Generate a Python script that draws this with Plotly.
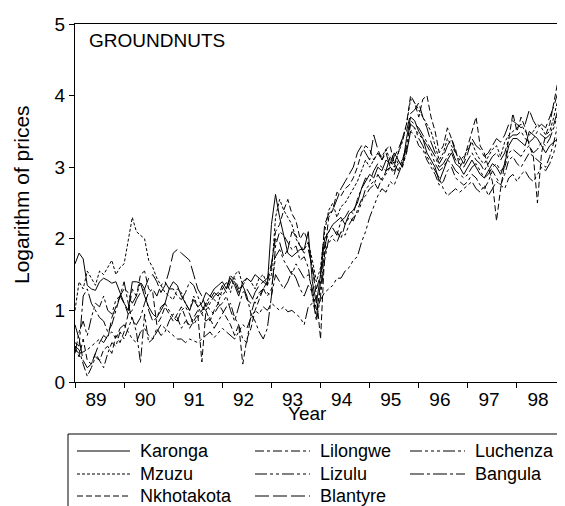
import plotly.graph_objects as go

# monthly observations 1989:01 - 1998:12
years = list(range(1989, 1999))
x_time = [y + m / 12 for y in years for m in range(12)]
tick_labels = ["89", "90", "91", "92", "93", "94", "95", "96", "97", "98"]

karonga = [
    1.65, 1.80, 1.72, 1.35, 1.30, 1.28, 1.40, 1.45, 1.42, 1.38, 1.40, 1.25,
    1.10, 1.00, 1.40, 1.40, 1.38, 1.20, 1.05, 0.95, 0.90, 1.00, 1.10, 1.30,
    1.40, 1.35, 1.20, 1.10, 1.00, 1.15, 1.05, 1.10, 1.25, 1.20, 1.30, 1.35,
    1.40, 1.30, 1.45, 1.35, 1.20, 1.40, 1.45, 1.40, 1.50, 1.45, 1.40, 1.35,
    2.20, 2.62, 2.30, 2.05, 1.80, 1.75, 1.80, 1.85, 1.85, 2.10, 1.40, 1.10,
    1.50, 2.00, 2.10, 2.20, 2.25, 2.30, 2.20, 2.35, 2.40, 2.50, 2.70, 2.80,
    2.90, 2.85, 3.00, 2.95, 3.10, 3.05, 3.20, 3.10, 3.00, 3.40, 3.70, 3.65,
    3.50, 3.40, 3.20, 3.10, 3.00, 2.80, 2.95, 3.10, 3.20, 3.05, 3.00, 2.90,
    3.00, 3.10, 3.00, 2.90, 2.85, 2.95, 3.05, 3.00, 2.90, 3.05, 3.30, 3.40,
    3.40, 3.35, 3.30, 3.50, 3.45, 3.40, 3.30, 3.20, 3.30, 3.35, 3.40, 3.35,
]
lilongwe = [
    0.50, 0.45, 0.25, 0.08, 0.20, 0.35, 0.30, 0.20, 0.40, 0.55, 0.50, 0.70,
    0.60, 0.75, 0.90, 0.70, 0.27, 0.95, 0.55, 0.60, 0.75, 0.65, 0.70, 0.85,
    0.95, 0.90, 0.75, 0.85, 0.80, 0.90, 1.00, 0.95, 0.85, 0.90, 0.75, 0.85,
    0.95, 1.05, 1.10, 0.90, 0.80, 0.60, 0.55, 0.95, 1.15, 1.20, 1.30, 1.25,
    1.20, 1.90, 2.10, 2.05, 1.95, 1.85, 1.90, 1.70, 1.75, 1.60, 1.20, 0.85,
    1.20, 1.70, 2.00, 2.05, 2.10, 2.00, 2.20, 2.30, 2.25, 2.40, 2.55, 2.60,
    2.70, 2.75, 2.90, 2.80, 2.95, 3.00, 2.90, 3.10, 3.00, 3.20, 3.50, 3.45,
    3.30, 3.25, 3.10, 3.00, 2.90, 2.75, 2.80, 2.95, 3.00, 2.85, 2.80, 2.75,
    2.80, 2.90, 2.85, 2.75, 2.70, 2.80, 2.95, 2.85, 2.75, 2.90, 3.10, 3.15,
    3.05, 3.00, 3.10, 3.20, 3.15, 3.10, 3.05, 3.00, 3.15, 3.35, 3.60, 3.70,
]
luchenza = [
    0.45, 0.40, 0.42, 0.45, 0.50, 0.55, 0.60, 0.55, 0.65, 0.70, 0.60, 0.75,
    0.80, 0.70, 0.60, 0.55, 0.70, 0.75, 0.65, 0.60, 0.70, 0.80, 0.75, 0.70,
    0.65, 0.60, 0.60, 0.55, 0.60, 0.58, 0.55, 0.60, 0.65, 0.70, 0.62, 0.68,
    0.75, 0.70, 0.65, 0.60, 0.70, 0.80, 0.75, 0.90, 1.00, 0.95, 1.05, 1.00,
    1.10, 1.05, 1.00, 1.05, 0.98, 1.00, 0.95, 0.90, 0.80, 1.05, 1.10, 1.00,
    1.15, 1.25, 1.30, 1.35, 1.45, 1.45, 1.55, 1.60, 1.70, 1.75, 1.95, 2.10,
    2.30, 2.45, 2.60, 2.70, 2.65, 2.80, 2.75, 2.90, 3.05, 3.20, 3.50, 3.55,
    3.40, 3.30, 3.15, 3.05, 2.95, 2.85, 2.70, 2.60, 2.65, 2.70, 2.65, 2.70,
    2.75, 2.80, 2.70, 2.65, 2.75, 2.60, 2.70, 2.80, 2.75, 2.70, 2.85, 2.90,
    2.80, 2.90, 2.95, 2.85, 2.80, 2.90, 3.00, 2.95, 3.05, 3.20, 3.45, 3.60,
]
mzuzu = [
    1.00, 1.40, 1.30, 1.55, 1.45, 1.35, 1.55, 1.50, 1.60, 1.70, 1.50, 1.60,
    1.65, 1.95, 2.30, 2.10, 2.05, 2.00, 1.70, 1.60, 1.45, 1.35, 1.25, 1.20,
    1.15, 1.30, 1.25, 1.10, 1.00, 1.20, 1.05, 0.95, 1.10, 1.20, 1.15, 1.10,
    1.30, 1.40, 1.25, 1.50, 1.55, 1.35, 1.45, 1.40, 1.30, 1.45, 1.50, 1.35,
    1.50, 2.30, 2.55, 2.40, 2.30, 2.20, 2.00, 1.90, 1.85, 1.95, 1.70, 1.40,
    1.60, 2.10, 2.40, 2.50, 2.30, 2.45, 2.50, 2.60, 2.70, 2.80, 2.95, 3.10,
    3.00, 3.10, 3.20, 3.15, 3.25, 3.10, 3.00, 3.20, 3.35, 3.60, 3.95, 3.90,
    3.80, 3.70, 3.60, 3.50, 3.30, 3.10, 3.20, 3.40, 3.30, 3.20, 3.10, 3.15,
    3.25, 3.35, 3.20, 3.10, 3.05, 3.15, 3.25, 3.30, 3.15, 3.35, 3.45, 3.50,
    3.55, 3.60, 3.50, 3.45, 3.50, 3.60, 3.55, 3.45, 3.50, 3.70, 3.95, 4.10,
]
lizulu = [
    0.40, 0.70, 0.85, 0.65, 0.90, 1.10, 1.05, 1.20, 1.00, 0.95, 1.15, 1.20,
    1.30, 1.25, 1.10, 1.20, 1.40, 1.30, 1.00, 0.85, 0.90, 1.05, 1.10, 1.00,
    0.90, 0.85, 1.00, 1.05, 0.95, 0.80, 0.90, 1.00, 1.10, 1.00, 0.95, 1.05,
    1.10, 1.20, 1.00, 0.85, 1.05, 1.25, 1.30, 1.20, 1.10, 1.25, 1.30, 1.20,
    1.30, 1.75, 1.85, 1.70, 1.60, 1.50, 1.65, 1.55, 1.45, 1.50, 1.30, 1.00,
    1.30, 1.80, 1.95, 2.00, 1.95, 2.10, 2.05, 2.20, 2.30, 2.35, 2.50, 2.70,
    2.75, 2.80, 2.70, 2.85, 2.90, 3.00, 2.95, 3.05, 3.10, 3.25, 3.60, 3.55,
    3.45, 3.40, 3.30, 3.20, 3.05, 2.95, 3.00, 3.10, 3.05, 2.95, 2.90, 2.85,
    2.90, 3.00, 3.05, 2.95, 2.85, 2.90, 3.00, 3.05, 2.95, 3.00, 3.20, 3.25,
    3.20, 3.15, 3.25, 3.30, 3.20, 3.25, 3.35, 3.30, 3.40, 3.55, 3.75, 3.80,
]
bangula = [
    0.55, 0.50, 1.20, 1.30, 1.10, 1.00, 0.90, 0.85, 0.70, 0.80, 1.00, 1.20,
    1.40, 1.10, 0.85, 0.80, 0.90, 1.10, 1.25, 1.30, 1.20, 1.35, 1.40, 1.30,
    1.30, 1.20, 1.15, 1.25, 1.40, 1.35, 1.20, 1.05, 1.00, 1.10, 1.20, 1.25,
    1.20, 1.30, 1.50, 1.40, 1.25, 1.35, 1.20, 0.95, 0.85, 0.70, 0.60, 0.75,
    1.20, 1.50, 1.40, 1.30, 1.40, 1.55, 1.45, 1.30, 1.20, 1.35, 1.25, 0.90,
    1.40, 1.90, 2.10, 2.15, 2.05, 2.25, 2.30, 2.40, 2.35, 2.55, 2.70, 2.85,
    2.80, 2.95, 3.05, 3.00, 2.95, 3.15, 3.05, 2.95, 3.10, 3.30, 3.65, 3.60,
    3.55, 3.45, 3.35, 3.25, 3.15, 3.00, 3.05, 3.15, 3.25, 3.10, 3.05, 3.00,
    3.10, 3.20, 3.10, 3.05, 2.95, 3.05, 3.15, 3.20, 3.10, 3.20, 3.40, 3.45,
    3.45, 3.50, 3.40, 3.35, 3.40, 3.50, 3.45, 3.40, 3.45, 3.60, 3.80, 3.85,
]
nkhotakota = [
    0.50, 0.35, 0.60, 0.30, 0.25, 0.40, 0.30, 0.45, 0.50, 0.40, 0.65, 0.55,
    0.70, 0.95, 1.30, 1.20, 1.50, 1.55, 1.30, 1.25, 0.80, 0.90, 1.05, 0.95,
    0.85, 0.95, 1.05, 0.90, 0.75, 0.85, 0.95, 0.28, 1.00, 0.85, 1.00, 1.10,
    1.00, 0.90, 0.80, 0.65, 0.80, 0.25, 0.60, 0.75, 1.00, 1.15, 1.30, 1.40,
    1.60, 2.10, 2.20, 2.40, 2.55, 2.35, 2.25, 2.00, 2.10, 1.95, 1.60, 1.20,
    0.60, 1.80, 2.30, 2.40, 2.65, 2.60, 2.70, 2.75, 2.85, 3.00, 3.20, 3.30,
    3.25, 3.10, 3.20, 3.10, 3.25, 3.30, 3.05, 3.20, 3.40, 3.60, 4.00, 3.90,
    3.70, 3.95, 4.00, 3.70, 3.50, 3.20, 3.30, 3.55, 3.40, 3.25, 3.00, 3.10,
    3.30, 3.50, 3.70, 3.30, 3.20, 3.00, 2.80, 2.25, 2.70, 3.05, 3.40, 3.75,
    3.50, 3.70, 3.55, 3.30, 3.15, 2.50, 3.20, 3.45, 3.60, 3.90, 4.20, 4.35,
]
blantyre = [
    0.80, 0.60, 0.30, 0.20, 0.25, 0.40, 0.55, 0.65, 0.60, 0.90, 1.05, 1.20,
    1.10, 0.95, 1.00, 1.15, 1.25, 1.30, 1.45, 1.50, 1.40, 1.25, 1.35, 1.55,
    1.80, 1.85, 1.80, 1.75, 1.70, 1.50, 1.30, 1.20, 1.05, 1.15, 1.25, 1.20,
    1.35, 1.25, 1.40, 1.45, 1.30, 1.35, 1.15, 1.10, 1.25, 1.35, 1.40, 1.45,
    1.65, 2.00, 1.95, 1.75, 1.85, 2.10, 2.05, 1.90, 1.80, 1.85, 1.60, 1.30,
    1.50, 2.20, 2.35, 2.40, 2.55, 2.70, 2.80, 2.90, 3.00, 3.20, 3.30, 3.20,
    3.10, 3.45, 3.25, 3.10, 3.20, 3.00, 3.15, 3.25, 3.40, 3.50, 3.75, 3.80,
    3.90, 3.70, 3.55, 3.35, 3.20, 3.05, 3.15, 3.30, 3.40, 3.20, 3.15, 3.05,
    3.20, 3.40, 3.30, 3.25, 3.15, 3.20, 3.30, 3.40, 3.35, 3.45, 3.60, 3.65,
    3.60, 3.55, 3.60, 3.80, 3.65, 3.55, 3.60, 3.55, 3.70, 3.85, 4.05, 4.20,
]

series_names = ["Karonga", "Lilongwe", "Luchenza", "Mzuzu", "Lizulu",
                "Bangula", "Nkhotakota", "Blantyre"]
series_values = [karonga, lilongwe, luchenza, mzuzu, lizulu,
                 bangula, nkhotakota, blantyre]
dashes = ["solid", "9px,3px,3px,3px", "12px,3px,3px,3px,3px,3px,3px,3px",
          "3px,2px", "12px,3px,3px,3px,3px,3px", "14px,3px,3px,3px",
          "6px,3px", "14px,4px"]

FONT = "Liberation Sans, Arial, sans-serif"
fig = go.Figure()
for name, vals, d in zip(series_names, series_values, dashes):
    fig.add_trace(go.Scatter(x=x_time, y=vals, mode="lines", name=name,
                             line=dict(color="black", width=1, dash=d),
                             showlegend=False))

# the page body adds an 8px offset; target window coordinates below
OFF = 8
W, H = 565 - OFF, 506 - OFF
L, T = 75 - OFF, 24 - OFF
R = W - (562 - OFF)
B = H - (382 - OFF)
pw, ph = W - L - R, H - T - B

fig.update_layout(
    width=W, height=H,
    margin=dict(l=L, r=R, t=T, b=B, autoexpand=False),
    paper_bgcolor="white", plot_bgcolor="white",
    font=dict(family=FONT, size=19, color="black"),
)
fig.update_xaxes(
    range=[1989.0, 1998 + 11 / 12], automargin=False,
    tickvals=[y + 0.43 for y in years], ticktext=tick_labels,
    ticks="", showgrid=False, zeroline=False,
    showline=True, linecolor="black", linewidth=1, mirror=True,
    minor=dict(tickvals=years, ticks="outside", ticklen=5,
               tickcolor="black", tickwidth=1, showgrid=False),
    tickfont=dict(size=19),
)
fig.update_yaxes(
    range=[0, 5], tickvals=[0, 1, 2, 3, 4, 5], automargin=False,
    ticks="outside", ticklen=5, tickcolor="black",
    showgrid=False, zeroline=False,
    showline=True, linecolor="black", linewidth=1, mirror=True,
    tickfont=dict(size=19),
)


def px_x(v):
    return (v - OFF - L) / pw


def px_y(v):
    return 1 - (v - OFF - T) / ph


annotations = [
    dict(text="GROUNDNUTS", x=px_x(87), y=px_y(41), xref="paper", yref="paper",
         xanchor="left", yanchor="middle", showarrow=False, font=dict(size=19)),
    dict(text="Year", x=px_x(307), y=px_y(414), xref="paper", yref="paper",
         xanchor="center", yanchor="middle", showarrow=False, font=dict(size=19)),
    dict(text="Logarithm of prices", x=px_x(21), y=px_y(195), xref="paper",
         yref="paper", xanchor="center", yanchor="middle", textangle=-90,
         showarrow=False, font=dict(size=21)),
]
shapes = [
    dict(type="rect", xref="paper", yref="paper", x0=px_x(68), x1=px_x(600),
         y0=px_y(434), y1=px_y(540), line=dict(color="black", width=1),
         fillcolor="rgba(0,0,0,0)", layer="above"),
]
col_x = [(77, 130, 138), (255, 310, 318), (410, 465, 473)]
row_y = [451, 474, 496]
order = [(0, 0), (0, 1), (0, 2), (1, 0), (1, 1), (1, 2), (2, 0), (2, 1)]
for i, (r, c) in enumerate(order):
    x0, x1, xt = col_x[c]
    yy = row_y[r]
    shapes.append(dict(type="line", xref="paper", yref="paper",
                       x0=px_x(x0), x1=px_x(x1), y0=px_y(yy), y1=px_y(yy),
                       line=dict(color="black", width=1, dash=dashes[i])))
    annotations.append(dict(text=series_names[i], x=px_x(xt), y=px_y(yy),
                            xref="paper", yref="paper", xanchor="left",
                            yanchor="middle", showarrow=False,
                            font=dict(size=18)))
fig.update_layout(annotations=annotations, shapes=shapes)

fig.write_html("out.html")
